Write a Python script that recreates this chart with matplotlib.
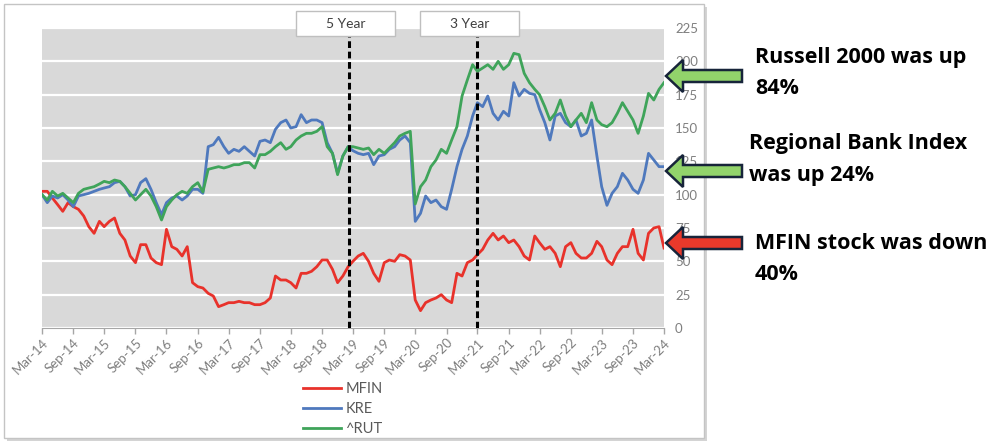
import numpy as np
import pandas as pd
import matplotlib
matplotlib.use("Agg")
import matplotlib.pyplot as plt
import matplotlib.dates as mdates
import matplotlib.patches as mpatches
import matplotlib.transforms as mtransforms

plt.rcParams['font.family'] = ['Lato', 'DejaVu Sans']

# monthly closes, indexed to 100 at Mar-14
months = pd.date_range("2014-03-01", "2024-03-01", freq="MS")

mfin = [102.5, 102.5, 97.5, 92.5, 87.5, 94, 91, 89, 84, 76, 71, 80, 76, 80, 82.5, 71,
        66, 54, 49, 62.5, 62.5, 52.5, 49, 47.5, 74, 61, 59, 54, 61, 34, 31,
        30, 26, 24, 16, 17.5, 19, 19, 20, 19, 19, 17.5, 17.5, 19, 22.5, 39,
        36, 36, 34, 30, 41, 41, 42.5, 46, 51, 51, 44, 34, 39, 46, 50,
        54, 56, 50, 41, 35, 49, 51, 50, 55, 54, 51, 21, 13, 19, 21,
        22.5, 25, 21, 19, 41, 39, 49, 51, 55, 59, 66, 71, 66, 69, 64,
        66, 61, 54, 51, 69, 64, 59, 61, 56, 46, 61, 64, 56, 52.5, 52.5,
        56, 65, 61, 51, 47.5, 56, 61, 61, 74, 56, 51, 71, 75, 76, 60]

kre = [100, 94, 99, 97.5, 100, 96, 91, 99, 100, 101, 102.5, 104, 105, 106, 109, 110,
       106, 99, 100, 109, 112, 104, 94, 85, 94, 97.5, 99, 96, 99, 104, 104,
       101, 136, 137.5, 143, 136, 131, 134, 132.5, 136, 132.5, 129, 140, 141, 139, 149,
       154, 156, 150, 151, 160, 154, 156, 156, 154, 139, 131, 116, 129, 136, 133,
       131, 130, 131, 122.5, 129, 130, 134, 136, 141, 144, 139, 80, 86, 99, 94,
       96, 91, 89, 104, 121, 134, 144, 159, 169, 166, 174, 161, 156, 162.5, 159,
       184, 174, 179, 176, 175, 164, 154, 141, 159, 161, 154, 151, 156, 144, 146,
       156, 129, 106, 92, 101, 106, 116, 111, 104, 101, 111, 131, 126, 121, 121]

rut = [100, 96, 102.5, 99, 101, 97.5, 94, 101, 104, 105, 106, 108, 110, 109, 111, 110,
       106, 101, 96, 100, 104, 99, 91, 81, 91, 96, 100, 102.5, 101, 106, 109,
       102, 119, 120, 121, 120, 121, 122.5, 122.5, 124, 124, 120, 130, 130, 132.5, 136,
       139, 134, 136, 141, 144, 146, 146, 147.5, 151, 136, 131, 115, 129, 136, 136,
       135, 134, 135, 130, 134, 131, 135, 139, 144, 146, 147.5, 93, 106, 111, 121,
       126, 134, 131, 141, 151, 174, 186, 197.5, 192.5, 195, 197.5, 194, 200, 194, 197.5,
       206, 205, 191, 184, 179, 175, 166, 156, 161, 171, 159, 151, 156, 161, 154,
       169, 156, 152.5, 151, 154, 161, 169, 162.5, 156, 146, 159, 176, 171, 179, 184]

series = [("MFIN", mfin, "#e8322b"), ("KRE", kre, "#4f79bd"), ("^RUT", rut, "#3fa45a")]
markers = [("5 Year", pd.Timestamp("2019-02-07")), ("3 Year", pd.Timestamp("2021-02-25"))]
callouts = [("Russell 2000 was up", "84%", "#92d36b"),
            ("Regional Bank Index", "was up 24%", "#92d36b"),
            ("MFIN stock was down", "40%", "#e8392b")]

W, H = 989, 442
fig = plt.figure(figsize=(W / 100, H / 100), dpi=100)
fig.patch.set_facecolor("white")


def fx(x):
    return x / W


def fy(y):
    return 1 - y / H


# chart frame with a soft shadow
fig.add_artist(mpatches.Rectangle((fx(7), fy(441)), fx(700), 434 / H, transform=fig.transFigure,
                                  facecolor="#d4d4d4", edgecolor="none", zorder=-3))
fig.add_artist(mpatches.Rectangle((fx(4), fy(438)), fx(700), 434 / H, transform=fig.transFigure,
                                  facecolor="white", edgecolor="#c4c4c4", lw=1, zorder=-2))

ax = fig.add_axes([fx(42), fy(328), fx(622), 300 / H])
ax.set_facecolor("#d9d9d9")

for name, vals, col in series:
    ax.plot(months, vals, color=col, lw=2, label=name, solid_joinstyle="round")

for lbl, d in markers:
    ax.axvline(d, color="black", lw=2.2, ls=(0, (2.2, 1.2)), zorder=5)

ax.set_xlim(months[0], months[-1])
ax.set_ylim(0, 225)
ax.set_yticks(np.arange(0, 226, 25))
ax.yaxis.tick_right()
ax.tick_params(axis="y", length=0, pad=8, labelsize=9.5, labelcolor="#7f7f7f")
ax.grid(axis="y", color="white", lw=1.6)
ax.set_axisbelow(True)

xt = pd.date_range("2014-03-01", "2024-03-01", freq="6MS")
ax.set_xticks(xt)
ax.xaxis.set_major_formatter(mdates.DateFormatter("%b-%y"))
ax.tick_params(axis="x", length=4, width=1, color="#a6a6a6", pad=2, labelsize=9.5, labelcolor="#7f7f7f")
for t in ax.get_xticklabels():
    t.set_rotation(45)
    t.set_ha("right")
    t.set_rotation_mode("anchor")

for s in ["top", "right", "left"]:
    ax.spines[s].set_visible(False)
ax.spines["bottom"].set_color("#a6a6a6")

ax.legend(loc="upper left", bbox_to_anchor=(fx(303), fy(382)), bbox_transform=fig.transFigure,
          frameon=False, borderpad=0, borderaxespad=0, handlelength=2.6, handletextpad=0.3,
          labelspacing=0.4, fontsize=10.5, labelcolor="#595959")

# period boxes above the dashed lines
for (lbl, d), x0 in zip(markers, [296, 420]):
    fig.add_artist(mpatches.Rectangle((fx(x0), fy(36)), fx(99), 25 / H, transform=fig.transFigure,
                                      facecolor="white", edgecolor="#bfbfbf", lw=1, zorder=10))
    fig.text(fx(x0 + 49.5), fy(23.5), lbl, ha="center", va="center", fontsize=10,
             color="#404040", zorder=11)

# block arrows + callout text
ident = mtransforms.IdentityTransform()
for (l1, l2, col), yc, ty in zip(callouts, [76, 171, 243], [57, 144, 243]):
    fig.add_artist(mpatches.FancyArrow(742, H - yc, -76, 0, width=12, head_width=32, head_length=17,
                                       length_includes_head=True, facecolor=col, edgecolor="#17243a",
                                       lw=1.8, transform=ident, zorder=12))
    xt0 = 749 if l1.startswith("Regional") else 755
    fig.text(fx(xt0), fy(ty), l1, ha="left", va="center", fontsize=15.5, fontweight="bold",
             family=["Open Sans", "DejaVu Sans"], color="black")
    fig.text(fx(xt0), fy(ty + 32), l2, ha="left", va="center", fontsize=15.5, fontweight="bold",
             family=["Open Sans", "DejaVu Sans"], color="black")

fig.savefig("out.png", dpi=100)
